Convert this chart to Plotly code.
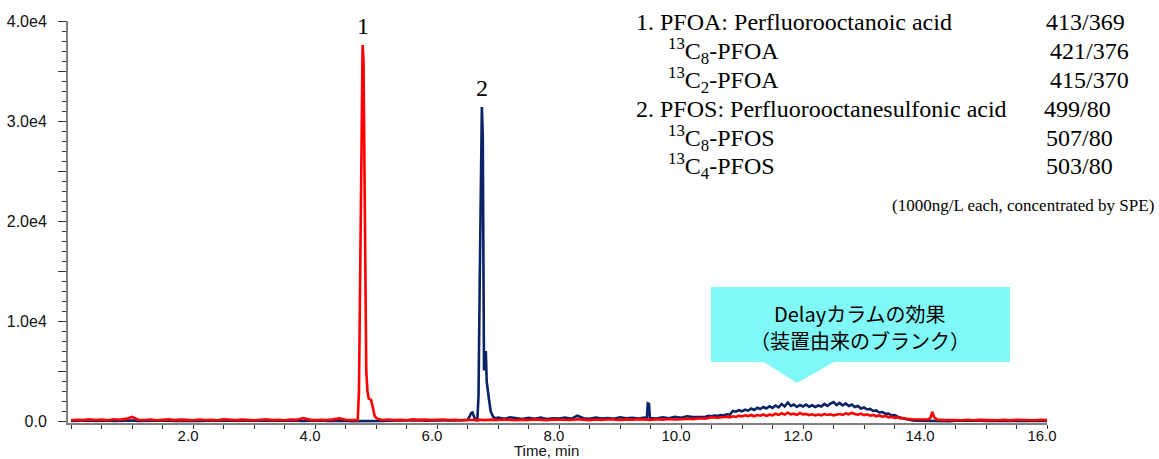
import plotly.graph_objects as go

# ---------------- data ----------------
# Red trace: PFOA channel (peak 1)
red_time_a = [0.0,0.1,0.2,0.3,0.4,0.5,0.6,0.7,0.8,0.9,1.0,1.1,1.2,1.3,1.4,1.5,1.6,1.7,1.8,1.9,
              2.0,2.1,2.2,2.3,2.4,2.5,2.6,2.7,2.8,2.9,3.0,3.1,3.2,3.3,3.4,3.5,3.6,3.7,3.8,3.9,
              4.0,4.1,4.2,4.3,4.4,4.5,4.6]
red_sig_a = [120,180,140,210,150,190,130,220,170,260,450,180,150,200,130,170,210,140,190,160,
             120,200,150,180,130,220,160,140,190,150,120,170,210,140,180,130,200,160,350,190,
             140,180,150,210,310,170,150]
red_time_b = [4.65,4.70,4.72,4.74,4.76,4.78,4.795,4.81,4.825,4.84,4.86,4.88,4.90,4.92,4.94,4.96,4.98,5.02,5.06]
red_sig_b = [170,140,3000,16000,31000,37600,36000,24000,12000,5000,3000,2300,2200,2150,1600,900,500,280,180]
red_time_c = [5.1,5.2,5.3,5.4,5.5,5.6,5.7,5.8,5.9,6.0,6.1,6.2,6.3,6.4,6.5,6.6,6.7,6.8,6.9,7.0,
              7.1,7.2,7.3,7.4,7.5,7.6,7.7,7.8,7.9,8.0,8.1,8.2,8.3,8.4,8.5,8.6,8.7,8.8,8.9,9.0,
              9.1,9.2,9.3,9.4,9.5,9.6,9.7,9.8,9.9,10.0,10.1,10.2,10.3,10.4,10.5,10.6,10.7]
red_sig_c = [150,200,140,180,130,210,160,190,140,170,200,150,180,130,160,210,170,140,190,150,
             200,160,130,190,150,210,170,140,200,160,190,150,220,170,140,200,160,230,180,150,
             210,170,240,190,160,220,190,250,200,230,280,240,320,290,420,380,460]
red_time_d = [10.75,10.8,10.85,10.9,10.95,11.0,11.05,11.1,11.15,11.2,11.25,11.3,11.35,11.4,11.45,
              11.5,11.55,11.6,11.65,11.7,11.75,11.8,11.85,11.9,11.95,12.0,12.05,12.1,12.15,12.2,
              12.25,12.3,12.35,12.4,12.45,12.5,12.55,12.6,12.65,12.7,12.75,12.8,12.85,12.9,12.95,
              13.0,13.05,13.1,13.15,13.2,13.25,13.3,13.35,13.4,13.45,13.5,13.55,13.6,13.65,13.7]
red_sig_d = [480,420,520,450,580,500,620,540,650,520,640,580,700,560,680,610,780,660,820,690,
             880,720,780,660,840,700,760,640,720,600,700,620,740,650,720,610,680,740,660,820,
             720,860,760,680,780,640,720,580,660,520,600,480,560,420,480,350,410,300,350,260]
red_time_e = [13.8,13.9,14.0,14.05,14.09,14.12,14.15,14.2,14.3,14.4,14.5,14.6,14.7,14.8,14.9,
              15.0,15.1,15.2,15.3,15.4,15.5,15.6,15.7,15.8,15.9,16.0]
red_sig_e = [230,190,170,200,380,950,420,190,160,140,190,130,170,120,160,140,190,130,170,110,
             180,140,160,120,170,140]

# Navy trace: PFOS channel (peak 2)
blue_time_a = [0.0,0.1,0.2,0.3,0.4,0.5,0.6,0.7,0.8,0.9,1.0,1.1,1.2,1.3,1.4,1.5,1.6,1.7,1.8,1.9,
               2.0,2.1,2.2,2.3,2.4,2.5,2.6,2.7,2.8,2.9,3.0,3.1,3.2,3.3,3.4,3.5,3.6,3.7,3.8,3.9,
               4.0,4.1,4.2,4.3,4.4,4.5,4.6,4.7,4.8,4.9,5.0,5.1,5.2,5.3,5.4,5.5,5.6,5.7,5.8,5.9,
               6.0,6.1,6.2,6.3,6.4]
blue_sig_a = [60,90,70,100,50,80,110,60,90,70,100,60,80,50,90,70,110,60,80,100,
              70,50,90,60,100,80,60,110,70,90,50,80,100,60,90,70,110,80,60,90,
              70,100,60,80,50,90,40,30,20,30,40,60,80,100,70,110,90,120,80,100,
              130,90,120,100,140]
blue_time_b = [6.45,6.50,6.53,6.56,6.58,6.60,6.63,6.66,6.68,6.70,6.72,6.735,6.75,6.76,6.77,6.78,
               6.80,6.815,6.85,6.88,6.92,6.96]
blue_sig_b = [110,160,450,850,900,600,150,120,2500,14000,27000,31400,28500,20000,5100,6900,
              6900,3950,2300,1000,470,320]
blue_time_c = [7.0,7.1,7.2,7.3,7.4,7.5,7.6,7.7,7.8,7.9,8.0,8.1,8.2,8.3,8.4,8.5,8.6,8.7,8.8,8.9,
               9.0,9.1,9.2,9.3,9.4,9.44,9.455,9.475,9.49,9.6,9.7,9.8,9.9,10.0,10.1,10.2]
blue_sig_c = [380,260,420,300,240,360,280,400,250,330,290,380,260,570,320,270,390,300,350,280,
              420,310,360,290,400,330,1800,1750,340,300,420,330,460,380,520,440]
blue_time_d = [10.3,10.35,10.4,10.45,10.5,10.55,10.6,10.65,10.7,10.75,10.8,10.85,10.9,10.95,11.0,
               11.05,11.1,11.15,11.2,11.25,11.3,11.35,11.4,11.45,11.5,11.55,11.6,11.65,11.7,11.75,
               11.8,11.85,11.9,11.95,12.0,12.05,12.1,12.15,12.2,12.25,12.3,12.35,12.4,12.45,12.5,
               12.55,12.6,12.65,12.7,12.75,12.8,12.85,12.9,12.95,13.0,13.05,13.1,13.15,13.2,13.25,
               13.3,13.35,13.4,13.45,13.5,13.55,13.6,13.65,13.7,13.75,13.8]
blue_sig_d = [450,520,480,560,520,600,560,650,600,720,680,1050,980,1130,1020,1180,1080,1300,1150,1380,
              1250,1450,1300,1520,1350,1600,1420,1750,1500,1900,1550,1700,1450,1650,1500,1700,1480,1620,1450,1600,
              1500,1750,1550,1800,1950,1650,1850,1600,1800,1550,1700,1450,1550,1300,1400,1200,1250,1050,1100,900,
              950,780,800,620,650,480,420,300,220,150,100]
blue_time_e = [13.9,14.0,14.1,14.2,14.3,14.4,14.5,14.6,14.7,14.8,14.9,15.0,15.1,15.2,15.3,15.4,
               15.5,15.6,15.7,15.8,15.9,16.0]
blue_sig_e = [80,60,90,50,70,40,80,60,90,50,70,60,80,50,90,60,70,50,80,60,70,60]

red_time = red_time_a + red_time_b + red_time_c + red_time_d + red_time_e
red_sig = red_sig_a + red_sig_b + red_sig_c + red_sig_d + red_sig_e
blue_time = blue_time_a + blue_time_b + blue_time_c + blue_time_d + blue_time_e
blue_sig = blue_sig_a + blue_sig_b + blue_sig_c + blue_sig_d + blue_sig_e

# labels
y_tick_values = [0, 5000, 10000, 15000, 20000, 25000, 30000, 35000, 40000]
y_tick_text = ["0.0", "", "1.0e4", "", "2.0e4", "", "3.0e4", "", "4.0e4"]
x_tick_values = [2, 4, 6, 8, 10, 12, 14, 16]
x_tick_text = ["2.0", "4.0", "6.0", "8.0", "10.0", "12.0", "14.0", "16.0"]
peak_labels = ["1", "2"]
peak_times = [4.78, 6.735]
compound_names = ["1. PFOA: Perfluorooctanoic acid",
                  "<sup>13</sup>C<sub>8</sub>-PFOA",
                  "<sup>13</sup>C<sub>2</sub>-PFOA",
                  "2. PFOS: Perfluorooctanesulfonic acid",
                  "<sup>13</sup>C<sub>8</sub>-PFOS",
                  "<sup>13</sup>C<sub>4</sub>-PFOS"]
transitions = ["413/369", "421/376", "415/370", "499/80", "507/80", "503/80"]
footnote = "(1000ng/L each, concentrated by SPE)"
callout_lines = ["Delayカラムの効果", "（装置由来のブランク）"]
x_title = "Time, min"

# ---------------- layout geometry (pixels) ----------------
W, H = 1159, 459
L, R, T, B = 68, 1047, 21, 423


def px(xp):
    return (xp - L) / (R - L)


def py(yp):
    return (B - yp) / (B - T)


RED = "#FF0000"
NAVY = "#0A2266"
CYAN = "#80F8F8"
SERIF = "Liberation Serif, Times New Roman, serif"
SANS = "Liberation Sans, Arial, sans-serif"
JP = "Noto Sans CJK JP, sans-serif"

fig = go.Figure()
fig.add_trace(go.Scatter(x=blue_time, y=blue_sig, mode="lines",
                         line=dict(color=NAVY, width=2.6), hoverinfo="skip", showlegend=False))
fig.add_trace(go.Scatter(x=red_time, y=red_sig, mode="lines",
                         line=dict(color=RED, width=2.6), hoverinfo="skip", showlegend=False))

annotations = []
# peak numbers
peak_heights = [max(red_sig), max(blue_sig)]
for lab, t, h in zip(peak_labels, peak_times, peak_heights):
    annotations.append(dict(x=t, y=h, xref="x", yref="y", text=lab, showarrow=False,
                            yanchor="bottom", yshift=4, xshift=0,
                            font=dict(family=SERIF, size=24, color="#000")))

# compound table
name_x = [634, 666, 666, 634, 666, 666]
mz_x = [1044, 1048, 1048, 1042, 1044, 1044]
row_y = [22, 51, 80, 109, 138, 166]
for name, mz, nx, mx, ry in zip(compound_names, transitions, name_x, mz_x, row_y):
    annotations.append(dict(x=px(nx), y=py(ry), xref="paper", yref="paper", text=name,
                            showarrow=False, xanchor="left", yanchor="middle",
                            font=dict(family=SERIF, size=24, color="#000")))
    annotations.append(dict(x=px(mx), y=py(ry), xref="paper", yref="paper", text=mz,
                            showarrow=False, xanchor="left", yanchor="middle",
                            font=dict(family=SERIF, size=24, color="#000")))
annotations.append(dict(x=px(1156), y=py(206), xref="paper", yref="paper", text=footnote,
                        showarrow=False, xanchor="right", yanchor="middle",
                        font=dict(family=SERIF, size=17, color="#000")))

# callout text
for line, ly in zip(callout_lines, [313, 340]):
    annotations.append(dict(x=px(860), y=py(ly), xref="paper", yref="paper", text=line,
                            showarrow=False, xanchor="center", yanchor="middle",
                            font=dict(family=JP, size=20, color="#000")))

# x axis title
annotations.append(dict(x=px(546), y=py(450), xref="paper", yref="paper", text=x_title,
                        showarrow=False, xanchor="center", yanchor="middle", borderpad=0,
                        font=dict(family=SANS, size=15, color="#111")))

shapes = [
    dict(type="rect", xref="paper", yref="paper", x0=px(711), x1=px(1010), y0=py(362), y1=py(287),
         fillcolor=CYAN, line=dict(width=0), layer="below"),
    dict(type="path", xref="paper", yref="paper",
         path="M {:.5f},{:.5f} L {:.5f},{:.5f} L {:.5f},{:.5f} Z".format(
             px(763), py(361.5), px(835), py(361.5), px(797), py(383)),
         fillcolor=CYAN, line=dict(width=0), layer="below"),
]

fig.update_layout(
    width=W, height=H,
    margin=dict(l=L, r=W - R, t=T, b=H - B, pad=0, autoexpand=False),
    paper_bgcolor="white", plot_bgcolor="white",
    showlegend=False,
    annotations=annotations,
    shapes=shapes,
    xaxis=dict(range=[-0.05, 16.0], tickmode="array", tickvals=x_tick_values, ticktext=x_tick_text,
               ticks="outside", ticklen=4, tickwidth=1, tickcolor="#333",
               minor=dict(dtick=0.5, tick0=0, ticks="outside", ticklen=4, tickwidth=1, tickcolor="#333"),
               showline=True, linecolor="#808080", linewidth=1.5, automargin=False,
               showgrid=False, zeroline=False, ticklabelshift=-5, ticklabelstandoff=-6,
               tickfont=dict(family=SANS, size=15, color="#111")),
    yaxis=dict(range=[-150, 40000], tickmode="array", tickvals=y_tick_values, ticktext=y_tick_text,
               ticks="outside", ticklen=8, tickwidth=1, tickcolor="#333",
               minor=dict(dtick=1000, tick0=0, ticks="outside", ticklen=4, tickwidth=1, tickcolor="#333"),
               showline=True, linecolor="#808080", linewidth=2, automargin=False,
               showgrid=False, zeroline=False, ticklabelstandoff=8,
               tickfont=dict(family=SANS, size=16, color="#111")),
)

fig.write_html("out.html", config={"displayModeBar": False},
               post_script="document.body.style.margin='0';document.body.style.overflow='hidden';")
